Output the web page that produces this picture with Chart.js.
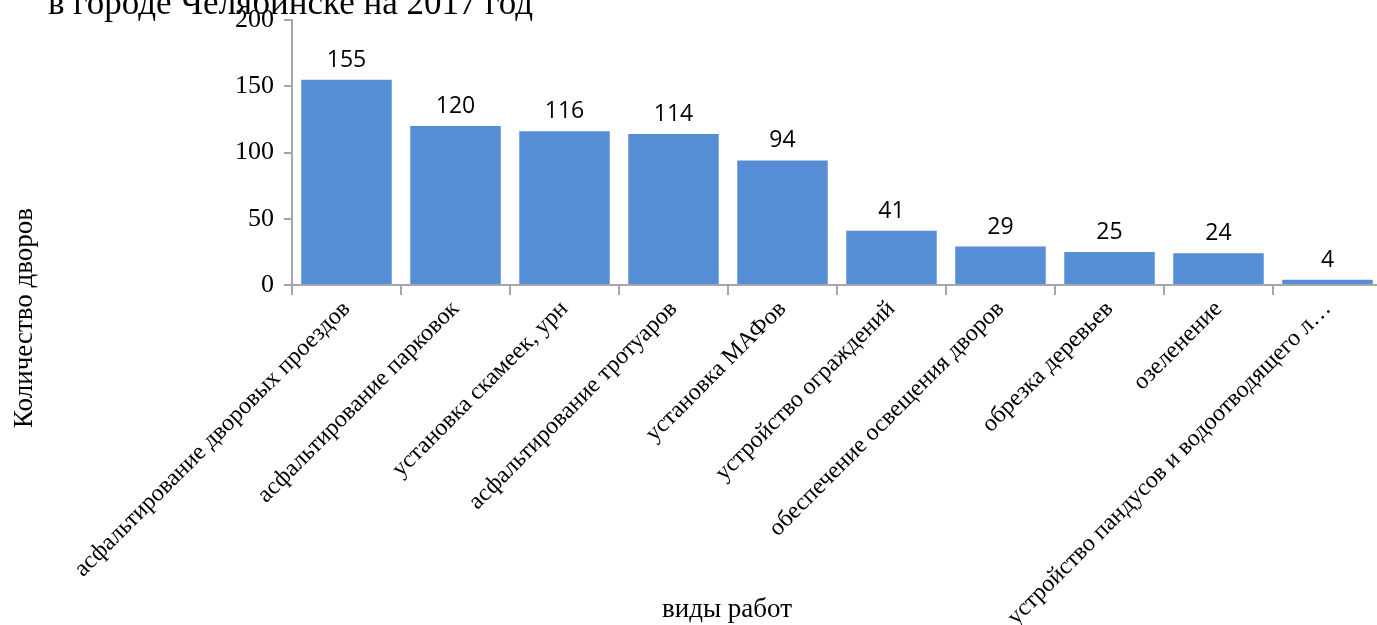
<!DOCTYPE html>
<html>
<head>
<meta charset="utf-8">
<script src="https://cdn.jsdelivr.net/npm/chart.js@4"></script>
<style>
  html, body { margin: 0; padding: 0; background: #fff; overflow: hidden; }
  #wrap { width: 1377px; height: 625px; overflow: hidden; position: relative; }
  #wrap canvas { position: absolute; left: 0; top: 0; }
</style>
</head>
<body>
<div id="wrap"><canvas id="chart" width="1384" height="625" style="width:1384px;height:625px"></canvas></div>
<script>
  const categories = [
    'асфальтирование дворовых проездов',
    'асфальтирование парковок',
    'установка скамеек, урн',
    'асфальтирование тротуаров',
    'установка МАФов',
    'устройство ограждений',
    'обеспечение освещения дворов',
    'обрезка деревьев',
    'озеленение',
    'устройство пандусов и водоотводящего л…'
  ];
  const values = [155, 120, 116, 114, 94, 41, 29, 25, 24, 4];
  const yTicks = [0, 50, 100, 150, 200];

  const titleText = 'в городе Челябинске на 2017 год';
  const xTitle = 'виды работ';
  const yTitle = 'Количество дворов';

  const serif = '"Liberation Serif", "DejaVu Serif", serif';
  const axisGray = '#a6a6a6';

  const extras = {
    id: 'extras',
    afterDraw(chart) {
      const ctx = chart.ctx;
      ctx.save();
      // clipped title
      ctx.fillStyle = '#000';
      ctx.font = '35px ' + serif;
      ctx.textAlign = 'left';
      ctx.textBaseline = 'alphabetic';
      ctx.fillText(titleText, 48, 14);
      // axis titles
      ctx.font = '27px ' + serif;
      ctx.textAlign = 'center';
      ctx.fillText(xTitle, 727, 617);
      ctx.translate(32, 318);
      ctx.rotate(-Math.PI / 2);
      ctx.fillText(yTitle, 0, 0);
      ctx.restore();

      // value labels
      ctx.save();
      ctx.font = '23px "Open Sans", "Noto Sans", sans-serif';
      ctx.fillStyle = '#000';
      ctx.textAlign = 'center';
      ctx.textBaseline = 'alphabetic';
      chart.getDatasetMeta(0).data.forEach((bar, i) => {
        ctx.fillText(String(values[i]), bar.x, bar.y - 13);
      });
      ctx.restore();
    }
  };

  new Chart(document.getElementById('chart'), {
    type: 'bar',
    data: {
      labels: categories,
      datasets: [{
        data: values,
        backgroundColor: '#558ed5',
        barPercentage: 0.83,
        categoryPercentage: 1
      }]
    },
    options: {
      responsive: false,
      animation: false,
      layout: { padding: { top: 20, right: 2, left: 0, bottom: 0 } },
      plugins: { legend: { display: false }, tooltip: { enabled: false } },
      scales: {
        x: {
          offset: true,
          grid: {
            display: true, drawOnChartArea: false, offset: true,
            color: axisGray, tickLength: 10, lineWidth: 2
          },
          border: { color: axisGray, width: 2 },
          ticks: {
            color: '#000',
            font: { family: serif, size: 24 },
            minRotation: 45, maxRotation: 45, autoSkip: false, padding: 0
          },
          afterFit(scale) { scale.height = 340; }
        },
        y: {
          min: 0, max: 200,
          afterBuildTicks(scale) { scale.ticks = yTicks.map(v => ({ value: v })); },
          grid: {
            display: true, drawOnChartArea: false,
            color: axisGray, tickLength: 8, lineWidth: 2
          },
          border: { color: axisGray, width: 2 },
          ticks: {
            color: '#000',
            font: { family: serif, size: 26 },
            padding: 10
          },
          afterFit(scale) {
            scale.width = 292;
            scale.paddingTop = 0;
            scale.paddingBottom = 0;
          }
        }
      }
    },
    plugins: [extras]
  });
</script>
</body>
</html>
